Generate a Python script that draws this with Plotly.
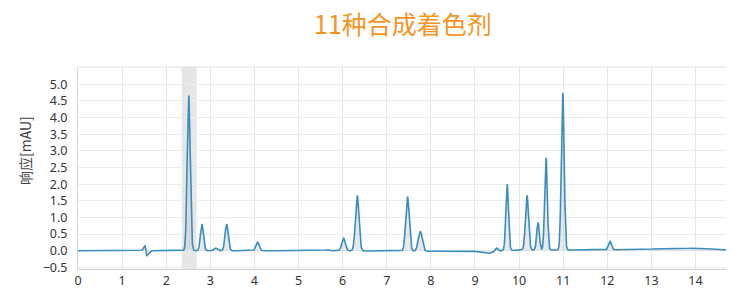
import numpy as np
import plotly.graph_objects as go

# Peaks: retention time (min), height (mAU), width sigma (min)
peak_times   = [2.51, 2.81, 3.12, 3.37, 4.07, 5.65, 6.02, 6.33, 7.47, 7.76, 8.55, 9.48, 9.73, 10.18, 10.43, 10.61, 10.99, 12.06]
peak_heights = [4.67, 0.80, 0.08, 0.80, 0.26, 0.03, 0.38, 1.67, 1.64, 0.59, 0.02, 0.12, 2.00, 1.64, 0.83, 2.78, 4.73, 0.26]
peak_sigmas  = [0.034, 0.034, 0.035, 0.036, 0.036, 0.045, 0.04, 0.04, 0.04, 0.045, 0.045, 0.035, 0.03, 0.035, 0.03, 0.03, 0.032, 0.035]

# Baseline drift
base_t = [0.0, 1.0, 1.45, 1.52, 1.56, 1.65, 2.0, 5.0, 9.0, 9.3, 9.45, 9.6, 10.0, 12.0, 12.6, 13.5, 14.1, 14.5, 14.85]
base_v = [0.0, 0.0, 0.0, 0.16, -0.16, 0.0, 0.0, 0.0, -0.02, -0.08, -0.05, 0.0, 0.02, 0.02, 0.04, 0.06, 0.08, 0.03, 0.02]

x_ticks = list(range(0, 15))
y_ticks = [-0.5, 0.0, 0.5, 1.0, 1.5, 2.0, 2.5, 3.0, 3.5, 4.0, 4.5, 5.0]

t = np.arange(0.0, 14.85, 0.004)
signal = np.interp(t, base_t, base_v)
for tr, h, s in zip(peak_times, peak_heights, peak_sigmas):
    signal = signal + h * np.exp(-0.5 * ((t - tr) / s) ** 2)

fig = go.Figure()
fig.add_trace(go.Scatter(
    x=t, y=signal, mode="lines",
    line=dict(color="#3a8dc0", width=1.6),
    fill="tozeroy", fillcolor="rgba(200,200,200,0.4)",
    hoverinfo="skip", showlegend=False,
))

fig.add_vrect(x0=2.35, x1=2.69, fillcolor="rgba(200,200,200,0.45)", line_width=0, layer="below")

fig.update_layout(
    width=726, height=283,
    margin=dict(l=70, r=1, t=59, b=22),
    paper_bgcolor="white", plot_bgcolor="white",
    font=dict(family="Noto Sans, Noto Sans CJK SC", size=12, color="#444"),
    xaxis=dict(range=[0, 14.85], tickvals=x_ticks, showgrid=True, gridcolor="#e6e6e6",
               zeroline=False, showline=True, linecolor="#d0d0d0", ticks="",
               tickfont=dict(size=12.5, color="#333")),
    yaxis=dict(range=[-0.55, 5.52], tickvals=y_ticks, tickformat=".1f", showgrid=True, gridcolor="#ececec",
               zeroline=False, showline=True, linecolor="#d8d8d8", ticks="", ticklabelstandoff=7,
               tickfont=dict(size=12.5, color="#333")),
)
# Chart title (paper coords: plot area spans fig px 59..261 vertically, 70..725 horizontally)
fig.add_annotation(text="11种合成着色剂", xref="paper", yref="paper",
                   x=0.496, y=1.218, xanchor="center", yanchor="middle", showarrow=False,
                   font=dict(family="Noto Sans CJK SC", size=25, color="#f7931e"))
fig.add_annotation(text="响应[mAU]", textangle=-90, xref="paper", yref="paper",
                   x=-0.081, y=0.589, xanchor="center", yanchor="middle", showarrow=False,
                   font=dict(family="Noto Sans CJK SC", size=14, color="#444"))
fig.add_shape(type="line", xref="paper", yref="paper", x0=0, x1=1, y0=1, y1=1, line=dict(color="#e0e0e0", width=1))

fig.write_html("out.html")
